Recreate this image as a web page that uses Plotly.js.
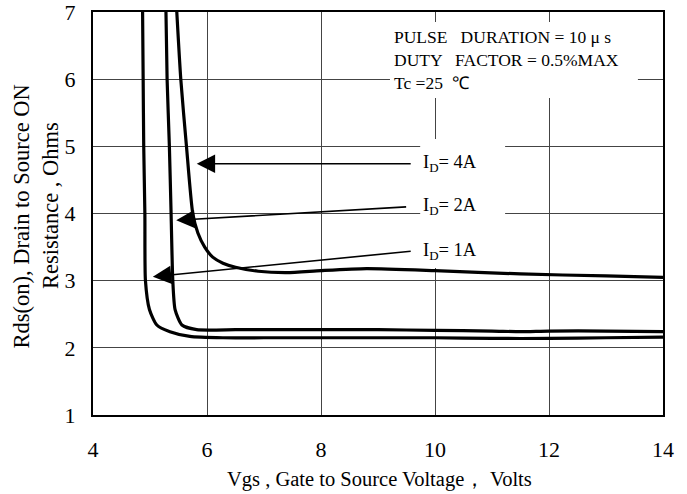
<!DOCTYPE html>
<html>
<head>
<meta charset="utf-8">
<script src="https://cdn.plot.ly/plotly-3.0.1.min.js"></script>
<style>html,body{margin:0;padding:0;background:#fff;}#chart{width:687px;height:494px;}</style>
</head>
<body>
<div id="chart"></div>
<script>
// Curve data (Vgs in volts, Rds(on) in ohms)
const vgs1A = [4.87, 4.88, 4.89, 4.91, 4.92, 4.99, 5.12, 5.35, 5.70, 6.28, 7.0, 8.0, 9.0, 10.0, 11.0, 12.0, 13.0, 14.0];
const rds1A = [7.0, 6.0, 5.0, 4.0, 3.0, 2.57, 2.34, 2.24, 2.17, 2.15, 2.15, 2.15, 2.15, 2.15, 2.14, 2.14, 2.15, 2.16];

const vgs2A = [5.28, 5.30, 5.34, 5.37, 5.40, 5.44, 5.56, 5.82, 6.5, 7.0, 8.0, 9.0, 10.0, 11.0, 11.5, 12.0, 13.0, 14.0];
const rds2A = [7.0, 6.0, 5.0, 4.0, 3.0, 2.57, 2.34, 2.27, 2.27, 2.27, 2.27, 2.27, 2.26, 2.25, 2.24, 2.25, 2.25, 2.24];

const vgs4A = [5.47, 5.54, 5.64, 5.75, 5.84, 5.96, 6.10, 6.28, 6.5, 6.9, 7.4, 8.0, 8.8, 10.0, 11.5, 13.0, 14.0];
const rds4A = [7.0, 6.0, 5.0, 4.0, 3.71, 3.50, 3.35, 3.26, 3.20, 3.14, 3.12, 3.15, 3.18, 3.15, 3.10, 3.07, 3.05];

const xTicks = [4, 6, 8, 10, 12, 14];
const yTicks = [1, 2, 3, 4, 5, 6, 7];

// Label texts and arrow targets
const labelTexts = ["I<sub>D</sub>= 4A", "I<sub>D</sub>= 2A", "I<sub>D</sub>= 1A"];
const labelVgs = [9.76, 9.76, 9.76];
const labelRds = [4.74, 4.10, 3.44];
const arrowTipVgs = [5.82, 5.46, 5.05];
const arrowTipRds = [4.74, 3.90, 3.06];
const arrowTailVgs = [9.6, 9.52, 9.6];
const arrowTailRds = [4.74, 4.10, 3.44];

const conditionText = "PULSE &nbsp;&nbsp;DURATION = 10 μ s<br>DUTY &nbsp;&nbsp;FACTOR = 0.5%MAX<br>Tc =25 &nbsp;℃";
const xTitle = "Vgs , Gate to Source Voltage， Volts";
const yTitleLines = ["Rds(on), Drain to Source ON", "Resistance , Ohms"];

const serif = "Liberation Serif, Times New Roman, serif";
const lineStyle = {color: "#000", width: 3.2, shape: "spline", smoothing: 0.6};

const traces = [
  {x: vgs1A, y: rds1A, mode: "lines", line: lineStyle, name: "ID=1A"},
  {x: vgs2A, y: rds2A, mode: "lines", line: lineStyle, name: "ID=2A"},
  {x: vgs4A, y: rds4A, mode: "lines", line: lineStyle, name: "ID=4A"}
];

const annotations = [];
for (let i = 0; i < labelTexts.length; i++) {
  annotations.push({
    x: arrowTipVgs[i], y: arrowTipRds[i], xref: "x", yref: "y",
    ax: arrowTailVgs[i], ay: arrowTailRds[i], axref: "x", ayref: "y",
    text: "", showarrow: true, arrowhead: 2, arrowsize: 2.3, arrowwidth: 1.6, arrowcolor: "#000"
  });
  annotations.push({
    x: labelVgs[i], y: labelRds[i], xref: "x", yref: "y",
    text: labelTexts[i], showarrow: false, xanchor: "left", yanchor: "middle",
    font: {family: serif, size: 18.5, color: "#000"}
  });
}
annotations.push({
  x: 9.24, y: 6.29, xref: "x", yref: "y", xanchor: "left", yanchor: "middle",
  text: conditionText, showarrow: false, align: "left",
  font: {family: serif, size: 17.5, color: "#000"}
});
// axis titles
annotations.push({
  x: 0.503, y: -0.161, xref: "paper", yref: "paper", xanchor: "center", yanchor: "middle",
  text: xTitle, showarrow: false, font: {family: serif, size: 20.5, color: "#000"}
});
annotations.push({
  x: -0.1263, y: 0.4926, xref: "paper", yref: "paper", xanchor: "center", yanchor: "middle",
  text: yTitleLines[0], textangle: -90, showarrow: false, font: {family: serif, size: 22.5, color: "#000"}
});
annotations.push({
  x: -0.0755, y: 0.521, xref: "paper", yref: "paper", xanchor: "center", yanchor: "middle",
  text: yTitleLines[1], textangle: -90, showarrow: false, font: {family: serif, size: 22.5, color: "#000"}
});

const layout = {
  width: 687, height: 494,
  margin: {l: 93, r: 24, t: 12, b: 79},
  paper_bgcolor: "#fff", plot_bgcolor: "#fff",
  showlegend: false,
  font: {family: serif, color: "#000"},
  xaxis: {
    range: [4, 14], tickvals: xTicks, ticktext: xTicks.map(String),
    showgrid: true, gridcolor: "#444", gridwidth: 1,
    zeroline: false, showline: true, linecolor: "#000", linewidth: 2, mirror: true,
    ticks: "", ticklabelstandoff: 14, ticklabeloverflow: "allow",
    tickfont: {family: serif, size: 22, color: "#000"}
  },
  yaxis: {
    range: [1, 7], tickvals: yTicks, ticktext: yTicks.map(String),
    showgrid: true, gridcolor: "#444", gridwidth: 1,
    zeroline: false, showline: true, linecolor: "#000", linewidth: 2, mirror: true,
    ticks: "", ticklabelstandoff: 11, ticklabeloverflow: "allow",
    tickfont: {family: serif, size: 22, color: "#000"}
  },
  shapes: [
    {type: "rect", xref: "x", yref: "y", x0: 9.74, x1: 11.23, y0: 3.19, y1: 5.11, fillcolor: "#fff", line: {width: 0}, layer: "between"},
    {type: "rect", xref: "x", yref: "y", x0: 9.21, x1: 13.56, y0: 5.72, y1: 6.85, fillcolor: "#fff", line: {width: 0}, layer: "between"}
  ],
  annotations: annotations
};

Plotly.newPlot("chart", traces, layout, {displayModeBar: false, staticPlot: true});
</script>
</body>
</html>
